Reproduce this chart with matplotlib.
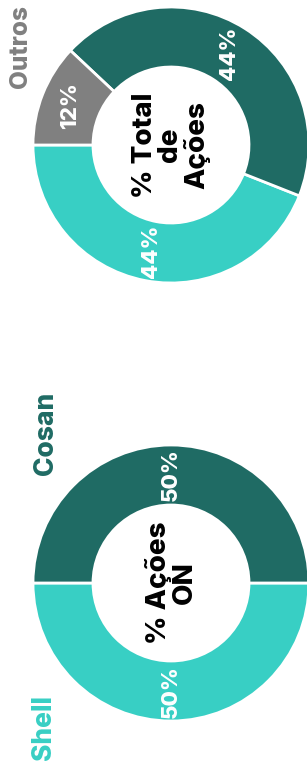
import matplotlib
matplotlib.use("Agg")
from matplotlib import pyplot as plt

# data
total_labels = ["Shell", "Cosan", "Outros"]
total_values = [44, 44, 12]
on_labels = ["Shell", "Cosan"]
on_values = [50, 50]

LIGHT = "#38cfc4"
DARK = "#1f6b64"
GRAY = "#808080"
colors = {"Shell": LIGHT, "Cosan": DARK, "Outros": GRAY}

plt.rcParams['font.family'] = ['Inter', 'DejaVu Sans']

W, H = 307, 771
fig = plt.figure(figsize=(W / 100, H / 100), dpi=100)
ax = fig.add_axes([0, 0, 1, 1])
ax.set_xlim(0, W)
ax.set_ylim(0, H)


def donut(cx, cy, labels, values, title, title_size):
	# the whole chart is turned 90 deg ccw, so text is rotated too
	wedges, texts, autotexts = ax.pie(
		values, colors=[colors[l] for l in labels], startangle=180,
		counterclock=True, center=(cx, cy), radius=138,
		autopct=lambda p: f"{p:.0f}%", pctdistance=0.785,
		wedgeprops=dict(width=60, edgecolor="white", linewidth=2),
		frame=True)
	for t in autotexts:
		t.set_rotation(90)
		t.set_color("white")
		t.set_fontweight("heavy")
		t.set_fontsize(16)
		t.set_ha("center")
		t.set_va("center")
	ax.text(cx, cy, title, rotation=90, ha="center", va="center",
		fontsize=title_size, fontweight="heavy", color="black",
		linespacing=1.0, multialignment="center")


donut(171, H - 145, total_labels, total_values, "% Total\nde\nAções", 20)
donut(171, H - 583, on_labels, on_values, "% Ações\nON", 20)

# side labels
ax.text(20, H - 88, "Outros", rotation=90, ha="center", va="bottom",
	fontsize=17.5, fontweight="heavy", color=GRAY)
ax.text(46, H - 475, "Cosan", rotation=90, ha="center", va="bottom",
	fontsize=19, fontweight="heavy", color=DARK)
ax.text(44, H - 760, "Shell", rotation=90, ha="center", va="bottom",
	fontsize=19, fontweight="heavy", color=LIGHT)

ax.set_xlim(0, W)
ax.set_ylim(0, H)
ax.set_aspect("equal")
ax.axis("off")
fig.savefig("out.png", dpi=100)
